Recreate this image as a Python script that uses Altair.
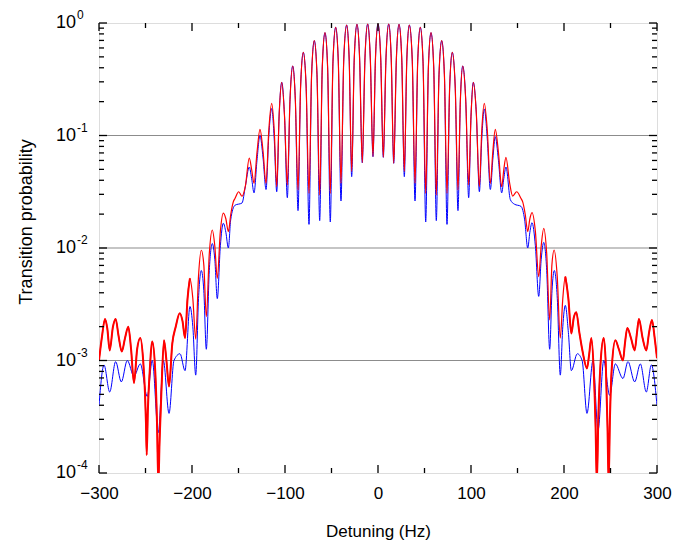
import altair as alt
import pandas as pd

# ---- traces: detuning (Hz) and log10 of the transition probability ----
# central Ramsey fringes (same detuning grid for both traces)
center_hz = [-103.5, -100.5, -97.5, -94.6, -91.7, -88.9, -86.0, -83.2, -80.3, -77.3,
             -74.2, -71.4, -68.5, -65.6, -62.7, -59.9, -57.0, -54.2, -51.3, -48.4,
             -45.5, -42.7, -39.8, -36.8, -33.7, -31.0, -28.3, -25.5, -22.6, -19.8,
             -16.9, -14.0, -11.1, -8.3, -5.4, -2.7, 0.0, 2.9, 5.7, 8.6,
             11.5, 14.2, 16.9, 19.8, 22.6, 25.5, 28.3, 31.0, 33.7, 36.8,
             39.8, 42.7, 45.5, 48.4, 51.3, 54.2, 57.0, 59.9, 62.7, 65.6,
             68.5, 71.4, 74.2, 77.1, 79.9, 83.0, 86.0, 88.6, 91.1, 94.3,
             97.5, 100.0, 102.5]
blue_center_log = [-0.527, -0.83, -1.553, -0.68, -0.382, -0.68, -1.668, -0.56, -0.261, -0.56,
                   -1.79, -0.46, -0.157, -0.46, -1.757, -0.39, -0.086, -0.39, -1.769, -0.34,
                   -0.038, -0.34, -1.582, -0.32, -0.018, -0.32, -1.366, -0.31, -0.012, -0.31,
                   -1.242, -0.31, -0.009, -0.31, -1.188, -0.31, -0.009, -0.31, -1.194, -0.31,
                   -0.009, -0.31, -1.247, -0.31, -0.012, -0.31, -1.366, -0.32, -0.018, -0.32,
                   -1.582, -0.34, -0.038, -0.34, -1.769, -0.39, -0.086, -0.39, -1.757, -0.46,
                   -0.157, -0.46, -1.79, -0.56, -0.261, -0.56, -1.668, -0.68, -0.382, -0.68,
                   -1.553, -0.83, -0.527]
red_center_log = [-0.527, -0.83, -1.44, -0.68, -0.382, -0.68, -1.484, -0.56, -0.261, -0.56,
                  -1.514, -0.46, -0.157, -0.46, -1.529, -0.39, -0.086, -0.39, -1.514, -0.34,
                  -0.038, -0.34, -1.425, -0.32, -0.018, -0.32, -1.32, -0.31, -0.012, -0.31,
                  -1.242, -0.31, -0.009, -0.31, -1.188, -0.31, -0.009, -0.31, -1.194, -0.31,
                  -0.009, -0.31, -1.247, -0.31, -0.012, -0.31, -1.32, -0.32, -0.018, -0.32,
                  -1.425, -0.34, -0.038, -0.34, -1.514, -0.39, -0.086, -0.39, -1.529, -0.46,
                  -0.157, -0.46, -1.514, -0.56, -0.261, -0.56, -1.484, -0.68, -0.382, -0.68,
                  -1.44, -0.83, -0.527]

# blue trace, wings
blue_left_hz = [-300.0, -294.6, -288.5, -282.1, -276.0, -269.6, -262.4, -255.6, -248.1, -242.7,
                -236.2, -230.8, -224.7, -219.4, -212.9, -207.5, -202.2, -199.1, -196.0, -193.0,
                -190.0, -187.3, -184.6, -181.4, -178.2, -175.5, -172.8, -169.5, -166.3, -163.6,
                -160.9, -158.4, -153.8, -146.2, -142.7, -138.4, -135.9, -133.3, -130.1, -126.9,
                -123.6, -120.4, -117.4, -114.3, -111.6, -108.9, -106.2]
blue_left_log = [-3.40, -3.04, -3.28, -3.01, -3.19, -3.00, -3.14, -3.03, -3.32, -3.00,
                 -3.64, -3.00, -3.47, -3.00, -2.94, -3.09, -2.52, -2.70, -3.13, -2.45,
                 -2.20, -2.38, -2.90, -2.20, -1.96, -2.10, -2.45, -1.98, -1.78, -1.86,
                 -2.00, -1.75, -1.62, -1.60, -1.455, -1.28, -1.38, -1.51, -1.22, -1.00,
                 -1.20, -1.48, -1.00, -0.76, -1.03, -1.50, -0.80]
blue_right_hz = [105.7, 109.0, 111.6, 114.3, 117.5, 120.8, 123.5, 126.1, 129.5, 133.0,
                 135.3, 137.6, 142.3, 146.6, 153.8, 157.7, 161.0, 163.3, 165.6, 169.2,
                 172.8, 175.5, 178.2, 181.4, 184.6, 187.1, 189.6, 192.8, 196.0, 198.7,
                 201.4, 204.7, 207.9, 214.3, 219.5, 224.7, 231.2, 236.6, 242.7, 249.1,
                 255.2, 263.4, 268.8, 276.0, 282.1, 288.5, 293.9, 300.0]
blue_right_log = [-0.80, -1.50, -1.03, -0.764, -1.03, -1.48, -1.21, -1.01, -1.22, -1.51,
                  -1.38, -1.28, -1.57, -1.61, -1.63, -1.75, -2.00, -1.86, -1.775, -1.98,
                  -2.43, -2.10, -1.95, -2.20, -2.90, -2.38, -2.20, -2.45, -3.13, -2.70,
                  -2.51, -2.75, -3.09, -2.94, -3.00, -3.47, -3.00, -3.62, -3.00, -3.31,
                  -3.03, -3.16, -3.01, -3.19, -3.03, -3.28, -3.04, -3.40]

# red trace, wings
red_left_hz = [-300.0, -297.0, -293.5, -291.0, -288.5, -285.0, -282.1, -279.0, -275.5, -272.0,
               -268.5, -265.5, -262.4, -259.0, -255.6, -252.5, -250.5, -249.5, -248.7, -247.5,
               -245.5, -242.7, -239.5, -237.5, -236.2, -234.8, -233.0, -230.1, -227.5, -224.7,
               -221.2, -217.5, -213.2, -210.2, -207.5, -204.8, -202.2, -199.1, -196.0, -193.0,
               -190.0, -187.3, -184.6, -181.4, -178.2, -175.5, -172.8, -169.5, -166.3, -163.6,
               -160.9, -158.3, -155.6, -153.8, -149.8, -146.2, -142.7, -138.4, -135.9, -133.3,
               -130.1, -126.9, -123.6, -120.4, -117.4, -114.3, -111.6, -108.9, -106.2]
red_left_log = [-3.00, -2.80, -2.63, -2.72, -2.91, -2.70, -2.63, -2.78, -2.92, -2.80,
                -2.70, -2.90, -3.20, -2.90, -2.80, -3.00, -3.30, -3.55, -3.84, -3.45,
                -3.10, -2.83, -3.10, -3.60, -4.10, -3.70, -3.30, -2.82, -3.00, -3.23,
                -2.85, -2.70, -2.58, -2.65, -2.80, -2.45, -2.27, -2.45, -2.81, -2.25,
                -2.02, -2.15, -2.61, -2.05, -1.84, -1.98, -2.27, -1.85, -1.69, -1.74,
                -1.855, -1.70, -1.59, -1.56, -1.50, -1.54, -1.455, -1.20, -1.30, -1.425,
                -1.15, -0.945, -1.14, -1.425, -0.95, -0.714, -0.95, -1.455, -0.80]
red_right_hz = [105.7, 109.0, 111.6, 114.3, 117.5, 120.8, 123.5, 126.1, 129.5, 133.0,
                135.3, 137.6, 141.5, 144.8, 149.1, 153.8, 155.6, 158.3, 161.0, 163.3,
                165.6, 169.2, 172.8, 175.5, 178.2, 181.4, 184.6, 187.0, 189.4, 192.7,
                196.0, 198.7, 201.4, 204.7, 207.9, 210.5, 213.2, 216.5, 220.0, 224.7,
                227.0, 229.4, 232.0, 234.0, 235.3, 236.8, 239.5, 242.7, 245.0, 246.8,
                248.0, 249.3, 251.5, 255.2, 259.0, 263.4, 265.5, 268.1, 272.0, 276.0,
                278.5, 280.6, 284.5, 288.5, 291.5, 294.6, 297.5, 300.0]
red_right_log = [-0.80, -1.455, -0.95, -0.714, -0.95, -1.425, -1.14, -0.945, -1.15, -1.455,
                 -1.30, -1.194, -1.42, -1.538, -1.50, -1.56, -1.59, -1.70, -1.855, -1.74,
                 -1.686, -1.85, -2.255, -1.98, -1.825, -2.05, -2.64, -2.15, -2.018, -2.25,
                 -2.80, -2.45, -2.255, -2.45, -2.76, -2.62, -2.57, -2.75, -2.92, -3.07,
                 -2.95, -2.80, -3.10, -3.60, -4.10, -3.55, -3.00, -2.80, -3.05, -3.60,
                 -4.10, -3.55, -3.05, -2.82, -2.90, -3.00, -2.85, -2.71, -2.80, -2.91,
                 -2.75, -2.63, -2.80, -2.91, -2.75, -2.64, -2.80, -2.98]

# axis furniture
x_label_values = [-300, -200, -100, 0, 100, 200, 300]
x_minor_values = [-250, -150, -50, 50, 150, 250]
decades = [1e-4, 1e-3, 1e-2, 1e-1, 1.0]
decade_exponents = ["-4", "-3", "-2", "-1", "0"]
grid_decades = [1e-3, 1e-2, 1e-1]
minor_decade_ticks = [m * d for d in [1e-4, 1e-3, 1e-2, 1e-1] for m in range(2, 10)]

W, H = 558, 450
FONT = "Liberation Sans"
NOISY_WING_HZ = 200  # beyond this detuning the red trace is a noisy band


def trace(hz, logs):
    return pd.DataFrame({"hz": hz, "p": [10.0 ** v for v in logs]})


blue_df = trace(blue_left_hz + center_hz + blue_right_hz,
                blue_left_log + blue_center_log + blue_right_log)
red_df = trace(red_left_hz + center_hz + red_right_hz,
               red_left_log + red_center_log + red_right_log)
red_left_wing = red_df[red_df["hz"] <= -NOISY_WING_HZ]
red_right_wing = red_df[red_df["hz"] >= NOISY_WING_HZ]

x_scale = alt.Scale(domain=[-300, 300], nice=False, zero=False)
y_scale = alt.Scale(type="log", domain=[1e-4, 1.0], nice=False)

x_axis = alt.Axis(values=x_label_values, ticks=False, domain=False, grid=False,
                  labelFontSize=17, labelFont=FONT, labelColor="black", labelPadding=12,
                  labelFlush=False, labelOverlap=False,
                  title="Detuning (Hz)", titleFont=FONT, titleFontSize=17,
                  titleFontWeight="normal", titleColor="black", titlePadding=22)
X = alt.X("hz:Q", scale=x_scale, axis=x_axis)
Y = alt.Y("p:Q", scale=y_scale, axis=None)

grid = alt.Chart(pd.DataFrame({"p": grid_decades})).mark_rule(
    color="#8c8c8c", strokeWidth=1.2
).encode(y=Y, x=alt.value(0), x2=alt.value(W))

blue = alt.Chart(blue_df).mark_line(
    color="#0000ff", strokeWidth=1.0, interpolate="monotone", clip=True
).encode(x=X, y=Y)

red = alt.Chart(red_df).mark_line(
    color="#ff0000", strokeWidth=1.2, interpolate="monotone", clip=True
).encode(x=X, y=Y)

red_wings = [
    alt.Chart(d).mark_line(
        color="#ff0000", strokeWidth=2.0, interpolate="monotone", clip=True
    ).encode(x=X, y=Y)
    for d in (red_left_wing, red_right_wing)
]

# inward ticks on all four sides
x_major_df = pd.DataFrame({"hz": x_label_values})
x_minor_df = pd.DataFrame({"hz": x_minor_values})
y_major_df = pd.DataFrame({"p": decades})
y_minor_df = pd.DataFrame({"p": minor_decade_ticks})


def xticks(df, length):
    bottom = alt.Chart(df).mark_rule(color="black", strokeWidth=1.3).encode(
        x=X, y=alt.value(H), y2=alt.value(H - length))
    top = alt.Chart(df).mark_rule(color="black", strokeWidth=1.3).encode(
        x=X, y=alt.value(0), y2=alt.value(length))
    return bottom + top


def yticks(df, length):
    left = alt.Chart(df).mark_rule(color="black", strokeWidth=1.3).encode(
        y=Y, x=alt.value(0), x2=alt.value(length))
    right = alt.Chart(df).mark_rule(color="black", strokeWidth=1.3).encode(
        y=Y, x=alt.value(W), x2=alt.value(W - length))
    return left + right


# decade labels drawn as "10" with a raised exponent
label_df = pd.DataFrame({"p": decades, "base": ["10"] * 5, "exp": decade_exponents})
ten = alt.Chart(label_df).mark_text(
    align="right", baseline="middle", fontSize=18, font=FONT, color="black"
).encode(y=Y, x=alt.value(-23), text="base:N")
sup = alt.Chart(label_df).mark_text(
    align="left", baseline="middle", fontSize=12, font=FONT, color="black", dy=-8
).encode(y=Y, x=alt.value(-22), text="exp:N")

y_title = alt.Chart(pd.DataFrame({"t": ["Transition probability"]})).mark_text(
    angle=270, align="center", baseline="middle", fontSize=18, font=FONT, color="black"
).encode(x=alt.value(-72), y=alt.value(199), text="t:N")

chart = alt.layer(
    grid, blue, red, *red_wings,
    xticks(x_major_df, 8), xticks(x_minor_df, 5),
    yticks(y_major_df, 8), yticks(y_minor_df, 5),
    ten, sup, y_title,
).properties(
    width=W, height=H,
    autosize=alt.AutoSizeParams(type="none"),
    padding={"left": 99, "top": 23, "right": 30, "bottom": 77},
).configure_view(
    stroke="black", strokeWidth=1.5
).configure(background="white")

chart.save("out.html", embed_options={"renderer": "svg", "actions": False})
